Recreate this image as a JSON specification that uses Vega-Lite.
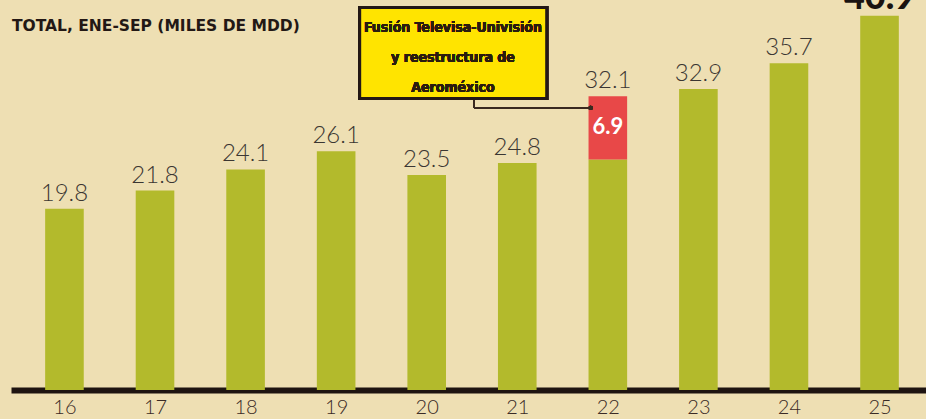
{
  "$schema": "https://vega.github.io/schema/vega-lite/v6.json",
  "width": 915,
  "height": 390,
  "autosize": "none",
  "padding": {"left": 11, "top": 0, "right": 0, "bottom": 29},
  "background": "#eedfb3",
  "config": {"view": {"stroke": null}},
  "title": {
    "text": "TOTAL, ENE-SEP (MILES DE MDD)",
    "anchor": "start",
    "frame": "group",
    "font": "DejaVu Sans",
    "fontWeight": "bold",
    "fontSize": 15.5,
    "color": "#231815",
    "offset": 0,
    "dy": 55,
    "dx": 1
  },
  "data": {
    "values": [
      {"year": 16, "total": 19.8, "base": 19.8},
      {"year": 17, "total": 21.8, "base": 21.8},
      {"year": 18, "total": 24.1, "base": 24.1},
      {"year": 19, "total": 26.1, "base": 26.1},
      {"year": 20, "total": 23.5, "base": 23.5},
      {"year": 21, "total": 24.8, "base": 24.8},
      {"year": 22, "total": 32.1, "base": 25.2, "extra": 6.9},
      {"year": 23, "total": 32.9, "base": 32.9},
      {"year": 24, "total": 35.7, "base": 35.7},
      {"year": 25, "total": 40.9, "base": 40.9}
    ]
  },
  "encoding": {
    "x": {
      "field": "year",
      "type": "quantitative",
      "scale": {"domain": [15.465, 25.458], "nice": false, "zero": false},
      "axis": {
        "values": [16, 17, 18, 19, 20, 21, 22, 23, 24, 25],
        "format": "d",
        "title": null,
        "grid": false,
        "ticks": false,
        "tickSize": 0,
        "domainColor": "#1e1410",
        "domainWidth": 6,
        "domainCap": "butt",
        "labelFont": "Lato",
        "labelFontWeight": 300,
        "labelFontSize": 20,
        "labelColor": "#3a2a25",
        "labelPadding": 7,
        "labelFlush": false
      }
    }
  },
  "layer": [
    {
      "mark": {"type": "bar", "width": 38.6, "color": "#b3ba2c"},
      "encoding": {
        "y": {"field": "base", "type": "quantitative", "scale": {"domain": [0, 42.62], "nice": false}, "axis": null}
      }
    },
    {
      "transform": [{"filter": "isValid(datum.extra)"}],
      "mark": {"type": "bar", "width": 38.6, "color": "#e84848"},
      "encoding": {
        "y": {"field": "total", "type": "quantitative"},
        "y2": {"field": "base"}
      }
    },
    {
      "transform": [{"filter": "datum.year != 25"}],
      "mark": {"type": "text", "font": "Lato", "fontWeight": 300, "fontSize": 24, "color": "#3b3632", "baseline": "alphabetic", "dy": -8},
      "encoding": {
        "y": {"field": "total", "type": "quantitative"},
        "text": {"field": "total", "type": "quantitative", "format": ".1f"}
      }
    },
    {
      "transform": [{"filter": "datum.year == 25"}],
      "mark": {"type": "text", "font": "Lato", "fontWeight": 900, "fontSize": 36, "color": "#1a1310", "baseline": "alphabetic", "dy": -7},
      "encoding": {
        "y": {"field": "total", "type": "quantitative"},
        "text": {"field": "total", "type": "quantitative", "format": ".1f"}
      }
    },
    {
      "transform": [{"filter": "isValid(datum.extra)"}],
      "mark": {"type": "text", "font": "Lato", "fontWeight": "bold", "fontSize": 22, "color": "#ffffff", "baseline": "alphabetic", "dy": 38},
      "encoding": {
        "y": {"field": "total", "type": "quantitative"},
        "text": {"field": "extra", "type": "quantitative", "format": ".1f"}
      }
    },
    {
      "mark": {"type": "rect", "fill": "#ffe400", "stroke": "#231815", "strokeWidth": 3},
      "encoding": {
        "x": {"datum": 19.26},
        "x2": {"datum": 21.325},
        "y": {"datum": 41.8},
        "y2": {"datum": 31.86}
      }
    },
    {
      "mark": {"type": "text", "text": ["Fusión Televisa-Univisión", "y reestructura de", "Aeroméxico"], "font": "DejaVu Sans Condensed, Roboto, sans-serif", "fontWeight": "bold", "fontSize": 14, "lineHeight": 30, "color": "#2a1c10", "align": "center", "baseline": "alphabetic"},
      "encoding": {
        "x": {"datum": 20.29},
        "y": {"datum": 39.16}
      }
    },
    {
      "mark": {"type": "rule", "color": "#3a2a20", "strokeWidth": 1.5},
      "encoding": {
        "x": {"datum": 20.522},
        "y": {"datum": 31.7},
        "y2": {"datum": 30.82}
      }
    },
    {
      "mark": {"type": "rule", "color": "#3a2a20", "strokeWidth": 1.5},
      "encoding": {
        "x": {"datum": 20.522},
        "x2": {"datum": 21.81},
        "y": {"datum": 30.82}
      }
    },
    {
      "mark": {"type": "point", "filled": true, "color": "#3a2a20", "size": 18, "opacity": 1},
      "encoding": {
        "x": {"datum": 21.81},
        "y": {"datum": 30.82}
      }
    }
  ]
}
